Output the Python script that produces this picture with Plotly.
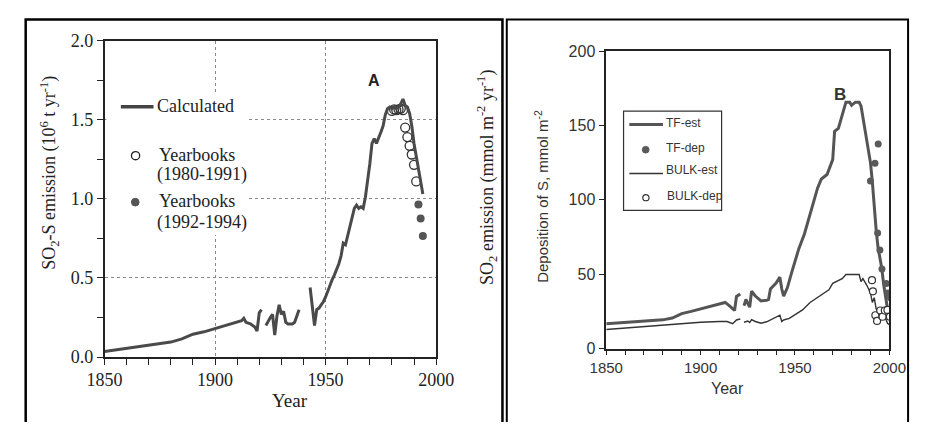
import plotly.graph_objects as go

# ---------------- Panel A: SO2-S emission ----------------
calc_years = [1850, 1855, 1860, 1865, 1870, 1875, 1880, 1885, 1890, 1895, 1900, 1905,
              1910, 1912, 1913, 1914, 1916, 1918, 1919, 1920, 1921, None,
              1923, 1924, 1925, 1926, 1927, 1928, 1929, 1930, 1931, 1932, 1933, 1934,
              1935, 1936, 1937, 1938, None,
              1943, 1944, 1945, 1946, 1947, 1948, 1949, 1950, 1951, 1952, 1953, 1954,
              1955, 1956, 1957, 1958, 1959, 1960, 1961, 1962, 1963, 1964, 1965, 1966,
              1967, 1968, 1969, 1970, 1971, 1972, 1973, 1974, 1975, 1976, 1977, 1978,
              1979, 1980, 1981, 1982, 1983, 1984, 1985, 1986, 1987, 1988, 1989, 1990,
              1991, 1992, 1993, 1994]
calc_vals = [0.035, 0.045, 0.055, 0.065, 0.075, 0.085, 0.095, 0.115, 0.145, 0.16, 0.18, 0.20,
             0.22, 0.23, 0.245, 0.22, 0.21, 0.19, 0.165, 0.28, 0.30, None,
             0.20, 0.23, 0.25, 0.27, 0.14, 0.26, 0.33, 0.27, 0.29, 0.22, 0.21, 0.21,
             0.21, 0.22, 0.26, 0.30, None,
             0.44, 0.32, 0.20, 0.30, 0.31, 0.33, 0.35, 0.38, 0.42, 0.46, 0.49, 0.52,
             0.55, 0.59, 0.64, 0.72, 0.71, 0.77, 0.82, 0.90, 0.94, 0.96, 0.94, 0.95,
             0.94, 1.01, 1.10, 1.22, 1.35, 1.38, 1.35, 1.38, 1.42, 1.46, 1.53, 1.57,
             1.58, 1.57, 1.58, 1.57, 1.58, 1.60, 1.63, 1.59, 1.58, 1.54, 1.46, 1.35,
             1.27, 1.19, 1.11, 1.03]

yb1_years = [1980, 1981, 1982, 1983, 1984, 1985, 1986, 1987, 1988, 1989, 1990, 1991]
yb1_vals = [1.555, 1.565, 1.56, 1.565, 1.57, 1.56, 1.45, 1.39, 1.335, 1.28, 1.215, 1.11]

yb2_years = [1992, 1993, 1994]
yb2_vals = [0.965, 0.875, 0.765]

# ---------------- Panel B: deposition of S ----------------
tf_est_years = [1850, 1860, 1870, 1880, 1885, 1890, 1895, 1900, 1905, 1910, 1913, 1915,
                1918, 1919, 1921, None,
                1923, 1924, 1926, 1927, 1929, 1932, 1935, 1936, 1937, 1940, 1942, 1943,
                1944, 1946, 1948, 1950, 1952, 1955, 1958, 1960, 1962, 1964, 1967, 1970,
                1971, 1973, 1975, 1977, 1979, 1980, 1982, 1984, 1985, 1987, 1989, 1990,
                1991, 1992, 1993, 1994, 1995, 1996, 1997, 1998, 1999, 2000]
tf_est_vals = [16.7, 17.5, 18.3, 19.3, 20.5, 23.5, 25.0, 26.7, 28.3, 30.0, 31.0, 29.0,
               25.6, 35.0, 36.7, None,
               28.8, 33.0, 27.8, 38.5, 35.3, 32.0, 32.5, 33.0, 40.0, 44.0, 48.0, 40.0,
               35.3, 41.0, 50.0, 58.0, 67.0, 77.0, 91.0, 100.0, 108.0, 114.0, 117.0, 127.0,
               146.0, 148.0, 157.0, 165.6, 165.6, 163.5, 165.6, 165.6, 163.0, 147.0, 133.0, 125.0,
               112.0, 93.0, 80.0, 68.0, 62.0, 54.0, 43.0, 33.0, 27.0, 22.0]

bulk_est_years = [1850, 1860, 1870, 1880, 1890, 1900, 1910, 1914, 1917, 1919, 1921, None,
                  1923, 1925, 1926, 1927, 1929, 1932, 1935, 1937, 1940, 1942, 1943, 1944,
                  1947, 1951, 1954, 1958, 1963, 1966, 1968, 1970, 1975, 1977, 1984, 1985,
                  1986, 1988, 1990, 1991, 1992, 1993, 1995, 1998, 1999, 2000]
bulk_est_vals = [12.8, 13.8, 14.8, 16.0, 17.0, 17.7, 18.2, 18.2, 16.7, 19.2, 19.9, None,
                 17.7, 18.5, 17.5, 19.5, 18.2, 17.0, 18.0, 19.2, 21.0, 22.4, 18.2, 19.2,
                 20.3, 23.5, 26.0, 31.0, 35.3, 38.0, 39.5, 43.8, 47.0, 49.8, 49.8, 45.0,
                 47.0, 42.7, 37.4, 31.0, 34.2, 26.7, 22.4, 20.3, 17.0, 16.0]

tf_dep_years = [1990.0, 1992.4, 1994.1, 1993.8, 1995.0, 1996.1, 1998.4, 1999.2, 2000.6]
tf_dep_vals = [112.6, 124.6, 137.5, 77.6, 66.2, 53.4, 43.8, 37.4, 34.2]

bulk_dep_years = [1990.8, 1991.3, 1992.6, 1993.5, 1995.2, 1996.4, 1997.6, 1999.0, 2000.3]
bulk_dep_vals = [46, 38.5, 22.4, 18.6, 25.6, 21.4, 25.6, 26, 21.4]

# ---------------- layout helpers ----------------
W, H = 928, 432
SERIF = "Liberation Serif, Times New Roman, serif"
SANS = "Liberation Sans, Arial, sans-serif"
INK = "#222222"


def px(x):
    return x / W


def py(y):
    return 1 - y / H


fig = go.Figure()

# Panel A traces
fig.add_trace(go.Scatter(x=yb1_years, y=yb1_vals, mode="markers",
                         marker=dict(symbol="circle-open", size=9, color="#333333",
                                     line=dict(width=1.3)), xaxis="x", yaxis="y"))
fig.add_trace(go.Scatter(x=calc_years, y=calc_vals, mode="lines", connectgaps=False,
                         line=dict(color="#4a4a4a", width=3), xaxis="x", yaxis="y"))
fig.add_trace(go.Scatter(x=yb2_years, y=yb2_vals, mode="markers",
                         marker=dict(symbol="circle", size=8, color="#555555"),
                         xaxis="x", yaxis="y"))

# Panel B traces
fig.add_trace(go.Scatter(x=tf_est_years, y=tf_est_vals, mode="lines", connectgaps=False,
                         line=dict(color="#555555", width=3), xaxis="x2", yaxis="y2"))
fig.add_trace(go.Scatter(x=bulk_est_years, y=bulk_est_vals, mode="lines", connectgaps=False,
                         line=dict(color="#333333", width=1.4), xaxis="x2", yaxis="y2"))
fig.add_trace(go.Scatter(x=tf_dep_years, y=tf_dep_vals, mode="markers",
                         marker=dict(symbol="circle", size=7, color="#5a5a5a"),
                         xaxis="x2", yaxis="y2"))
fig.add_trace(go.Scatter(x=bulk_dep_years, y=bulk_dep_vals, mode="markers",
                         marker=dict(symbol="circle", size=7, color="white",
                                     line=dict(width=1.2, color="#333333")),
                         xaxis="x2", yaxis="y2"))

axis_common = dict(showline=True, linecolor=INK, linewidth=1.5, mirror=True,
                   ticks="outside", tickcolor=INK, zeroline=False)

fig.update_layout(
    width=W, height=H, margin=dict(l=0, r=0, t=0, b=0),
    paper_bgcolor="white", plot_bgcolor="white", showlegend=False,
    xaxis=dict(domain=[px(90), px(435)], range=[1850, 2000], dtick=50, tick0=1850,
               ticklen=6, tickwidth=1.2, showgrid=True, gridcolor="#8a8a8a",
               griddash="dot", gridwidth=1,
               tickfont=dict(family=SERIF, size=18, color=INK),
               minor=dict(dtick=10, tick0=1850, ticks="outside", ticklen=6,
                          tickcolor=INK, showgrid=False),
               anchor="y", **axis_common),
    yaxis=dict(domain=[py(364), py(32)], range=[0, 2], dtick=0.5, tickformat=".1f",
               ticklen=6, tickwidth=1.2, showgrid=True, gridcolor="#8a8a8a",
               griddash="dot", gridwidth=1,
               tickfont=dict(family=SERIF, size=18, color=INK),
               minor=dict(dtick=0.25, ticks="outside", ticklen=6, tickcolor=INK,
                          showgrid=False),
               anchor="x", **axis_common),
    xaxis2=dict(domain=[px(612), px(906.5)], range=[1850, 2000], dtick=50, tick0=1850,
                ticklen=5, tickwidth=1.2, showgrid=False,
                tickfont=dict(family=SANS, size=15, color="#333333"),
                minor=dict(dtick=10, tick0=1850, ticks="outside", ticklen=5,
                           tickcolor=INK, showgrid=False),
                anchor="y2", **axis_common),
    yaxis2=dict(domain=[py(355), py(43)], range=[0, 200], dtick=50,
                ticklen=6, tickwidth=1.2, showgrid=False,
                tickfont=dict(family=SANS, size=16, color="#333333"),
                anchor="x2", **axis_common),
)

shapes = []
annotations = []


def frame_path(x0, x1, top, bottom):
    """Three-sided frame: left, top and right edges, open at the bottom."""
    return f"M {x0},{bottom} L {x0},{top} L {x1},{top} L {x1},{bottom}"


# panel frames (pixel coordinates converted to paper units)
shapes.append(dict(type="path", xref="paper", yref="paper",
                   path=frame_path(px(8), px(504), py(10), py(432)),
                   line=dict(color="black", width=2.5)))
shapes.append(dict(type="path", xref="paper", yref="paper",
                   path=frame_path(px(508.5), px(926), py(10), py(432)),
                   line=dict(color="black", width=2)))

# legend of panel A
shapes.append(dict(type="rect", xref="paper", yref="paper", x0=px(92), x1=px(240),
                   y0=py(236), y1=py(88), line=dict(width=0), fillcolor="white",
                   layer="above"))
shapes.append(dict(type="line", xref="paper", yref="paper", x0=px(107), x1=px(141),
                   y0=py(101.5), y1=py(101.5), line=dict(color="#444444", width=3.5)))
shapes.append(dict(type="circle", xref="paper", yref="paper", x0=px(118), x1=px(126.6),
                   y0=py(157), y1=py(148.4), line=dict(color="#222222", width=1.3)))
shapes.append(dict(type="circle", xref="paper", yref="paper", x0=px(118), x1=px(126),
                   y0=py(205.5), y1=py(197.5), line=dict(color="#555555", width=1),
                   fillcolor="#555555"))

legend_a = [("Calculated", 143, 101), ("Yearbooks", 145, 152), ("(1980-1991)", 143, 173),
            ("Yearbooks", 145, 200), ("(1992-1994)", 143, 223)]
for txt, x, y in legend_a:
    annotations.append(dict(text=txt, x=px(x), y=py(y), xref="paper", yref="paper",
                            xanchor="left", yanchor="middle", showarrow=False,
                            font=dict(family=SERIF, size=18, color=INK)))

# legend of panel B
shapes.append(dict(type="rect", xref="paper", yref="paper", x0=px(630), x1=px(732),
                   y0=py(210), y1=py(106), line=dict(color="#333333", width=1.2),
                   fillcolor="white"))
shapes.append(dict(type="line", xref="paper", yref="paper", x0=px(636), x1=px(671),
                   y0=py(120), y1=py(120), line=dict(color="#555555", width=3)))
shapes.append(dict(type="circle", xref="paper", yref="paper", x0=px(649.5), x1=px(656.5),
                   y0=py(150), y1=py(143), line=dict(color="#5a5a5a", width=1),
                   fillcolor="#5a5a5a"))
shapes.append(dict(type="line", xref="paper", yref="paper", x0=px(636), x1=px(671),
                   y0=py(171.5), y1=py(171.5), line=dict(color="#333333", width=1.4)))
shapes.append(dict(type="circle", xref="paper", yref="paper", x0=px(650), x1=px(656.5),
                   y0=py(200), y1=py(193.5), line=dict(color="#333333", width=1.2),
                   fillcolor="white"))

legend_b = [("TF-est", 672, 118), ("TF-dep", 672, 145), ("BULK-est", 672, 168),
            ("BULK-dep", 673, 195)]
for txt, x, y in legend_b:
    annotations.append(dict(text=txt, x=px(x), y=py(y), xref="paper", yref="paper",
                            xanchor="left", yanchor="middle", showarrow=False,
                            font=dict(family=SANS, size=12, color="#333333")))

# panel letters
annotations.append(dict(text="<b>A</b>", x=px(370), y=py(63), xref="paper", yref="paper",
                        showarrow=False, font=dict(family=SANS, size=16, color=INK)))
annotations.append(dict(text="<b>B</b>", x=px(864), y=py(77), xref="paper", yref="paper",
                        showarrow=False, font=dict(family=SANS, size=17, color="#333333")))

# axis titles
annotations.append(dict(text="Year", x=px(262.5), y=py(423), xref="paper", yref="paper",
                        showarrow=False, font=dict(family=SERIF, size=19, color=INK)))
annotations.append(dict(text="SO<sub>2</sub>-S emission (10<sup>6</sup> t yr<sup>-1</sup>)",
                        x=px(32), y=py(171), xref="paper", yref="paper", textangle=-90,
                        xanchor="center", yanchor="middle", showarrow=False,
                        font=dict(family=SERIF, size=18, color=INK)))
annotations.append(dict(text="SO<sub>2</sub> emission (mmol m<sup>-2</sup> yr<sup>-1</sup>)",
                        x=px(488), y=py(176), xref="paper", yref="paper", textangle=-90,
                        xanchor="center", yanchor="middle", showarrow=False,
                        font=dict(family=SERIF, size=18, color=INK)))
annotations.append(dict(text="Year", x=px(757), y=py(408), xref="paper", yref="paper",
                        showarrow=False, font=dict(family=SANS, size=16, color="#333333")))
annotations.append(dict(text="Deposition of S, mmol m<sup>-2</sup>",
                        x=px(545), y=py(195), xref="paper", yref="paper", textangle=-90,
                        xanchor="center", yanchor="middle", showarrow=False,
                        font=dict(family=SANS, size=15, color="#333333")))

fig.update_layout(shapes=shapes, annotations=annotations)
fig.write_html("out.html")
